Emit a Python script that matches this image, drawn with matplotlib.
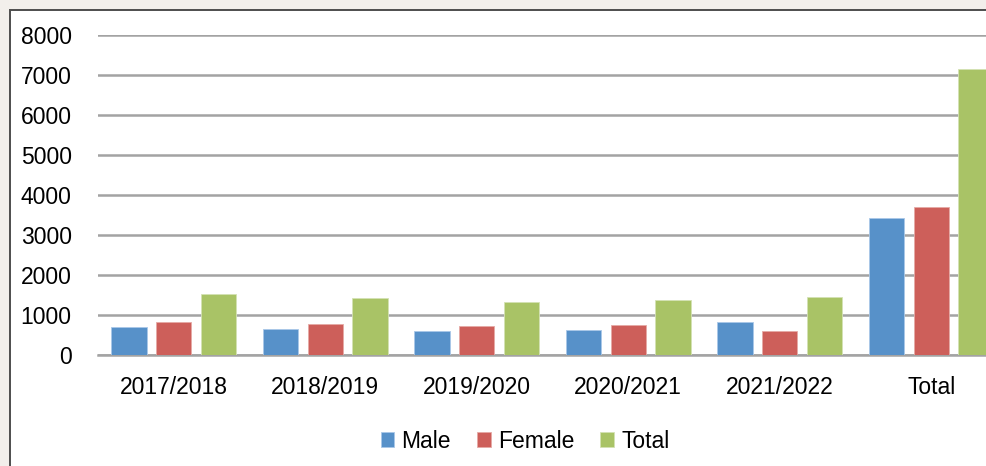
import numpy as np
import matplotlib.pyplot as plt
from matplotlib.patches import Rectangle

years = ['2017/2018', '2018/2019', '2019/2020', '2020/2021', '2021/2022', 'Total']
male = [700, 650, 607, 625, 832, 3425]
female = [825, 782, 732, 750, 607, 3707]
total = [1525, 1440, 1340, 1375, 1450, 7150]

plt.rcParams['font.family'] = ['Liberation Sans', 'DejaVu Sans']

W, H = 987, 466
fig = plt.figure(figsize=(W / 100, H / 100), dpi=100)
fig.patch.set_facecolor('#f2efeb')

# white chart frame (cut off on right and bottom)
frame = Rectangle((10 / W, -0.1), 1.2, 1 - 10 / H + 0.1, transform=fig.transFigure,
                  facecolor='white', edgecolor='#4d4d4d', linewidth=1.4, zorder=-10)
fig.patches.append(frame)

ax = fig.add_axes([98 / W, (H - 355.3) / H, (1007 - 98) / W, 320 / H])
ax.set_facecolor('none')

x = np.arange(len(years))
w = 0.234
off = 0.294
cols = ['#5791c9', '#cd5f5a', '#a9c366']
ax.bar(x - off, male, w, color=cols[0], edgecolor='#a9c8e8', linewidth=0.6, label='Male', zorder=3)
ax.bar(x, female, w, color=cols[1], edgecolor='#e6aaa6', linewidth=0.6, label='Female', zorder=3)
ax.bar(x + off, total, w, color=cols[2], edgecolor='#d4e2b4', linewidth=0.6, label='Total', zorder=3)

ax.set_xlim(-0.5, 5.5)
ax.set_ylim(0, 8000)
ax.set_yticks(range(0, 8001, 1000))
ax.set_xticks(x)
ax.set_xticklabels(years)
ax.yaxis.grid(True, color='#a3a3a3', linewidth=1.8, zorder=1)
ax.set_axisbelow(True)
for s in ['top', 'right', 'left']:
    ax.spines[s].set_visible(False)
ax.spines['bottom'].set_color('#a3a3a3')
ax.spines['bottom'].set_linewidth(1.8)
ax.tick_params(axis='both', length=0, labelsize=16.5, colors='black')
ax.tick_params(axis='y', pad=19)
ax.tick_params(axis='x', pad=15)

fig.legend(loc='center', bbox_to_anchor=(525 / W, 1 - 441 / H), ncol=3, frameon=False,
           fontsize=16.5, handlelength=0.6, handleheight=0.6, handletextpad=0.3,
           columnspacing=1.15)

fig.savefig('out.png', dpi=100, facecolor=fig.get_facecolor())
